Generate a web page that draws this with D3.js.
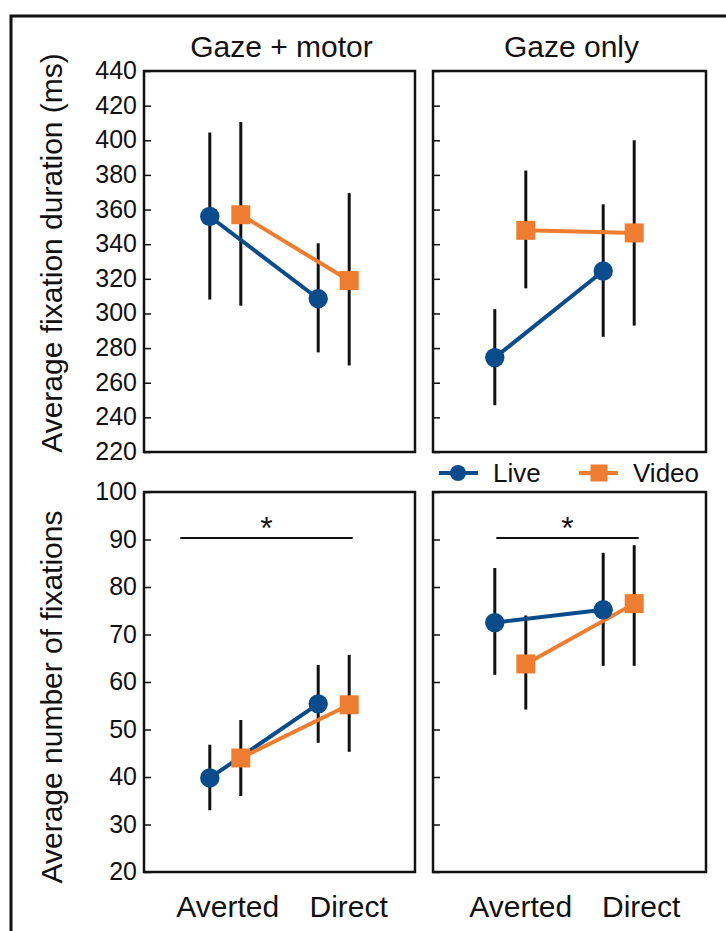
<!DOCTYPE html>
<html>
<head>
<meta charset="utf-8">
<script src="https://cdn.jsdelivr.net/npm/d3@7/dist/d3.min.js"></script>
<style>
  body { margin: 0; background: #fff; }
  svg text { font-family: "Liberation Sans", Arial, sans-serif; fill: #111; }
</style>
</head>
<body>
<svg id="chart" width="726" height="931"></svg>
<script>
// categories
const conditions = ['Averted', 'Direct'];
const seriesNames = ['Live', 'Video'];
const panelTitles = ['Gaze + motor', 'Gaze only'];

// fixation duration (ms): [Averted, Direct]
const durMotorLive = [356, 308.5];
const durMotorLiveLo = [308, 277.5];
const durMotorLiveHi = [404.5, 340.5];
const durMotorVideo = [357, 319];
const durMotorVideoLo = [304.5, 270];
const durMotorVideoHi = [410.5, 369.5];

const durGazeLive = [274.5, 324.5];
const durGazeLiveLo = [247, 286.5];
const durGazeLiveHi = [302.5, 363];
const durGazeVideo = [348, 346.5];
const durGazeVideoLo = [314.5, 293];
const durGazeVideoHi = [382.5, 400];

// number of fixations
const numMotorLive = [39.8, 55.4];
const numMotorLiveLo = [33, 47.2];
const numMotorLiveHi = [46.8, 63.6];
const numMotorVideo = [44, 55.2];
const numMotorVideoLo = [36, 45.3];
const numMotorVideoHi = [52, 65.7];

const numGazeLive = [72.5, 75.2];
const numGazeLiveLo = [61.5, 63.4];
const numGazeLiveHi = [84, 87.2];
const numGazeVideo = [63.8, 76.5];
const numGazeVideoLo = [54.2, 63.4];
const numGazeVideoHi = [74, 88.8];

// ticks
const durTicks = d3.range(220, 441, 20);
const numTicks = d3.range(20, 101, 10);
const sigLevel = 90.3;

const blue = '#0a4b8b';
const orange = '#ef7d31';
const dark = '#111';

const svg = d3.select('#chart');

// outer frame (cropped figure)
svg.append('path')
  .attr('d', 'M11,931V16H726')
  .attr('fill', 'none')
  .attr('stroke', dark)
  .attr('stroke-width', 3);

const colX = [[144, 415], [433, 706]];
const rowY = [[71, 452], [492, 872]];
// where the categories sit in each column (slightly shifted in the right one)
const catRange = [[144, 415], [429, 700]];
const labelShift = [[2.5, 15], [10.5, 22.5]];

const yDur = d3.scaleLinear().domain([220, 440]).range([rowY[0][1], rowY[0][0]]);
const yNum = d3.scaleLinear().domain([20, 100]).range([rowY[1][1], rowY[1][0]]);

function bundle(m, lo, hi) {
  return conditions.map((c, i) => ({ cond: c, mean: m[i], lo: lo[i], hi: hi[i] }));
}

const panels = [
  { row: 0, col: 0, y: yDur, ticks: durTicks, live: bundle(durMotorLive, durMotorLiveLo, durMotorLiveHi), video: bundle(durMotorVideo, durMotorVideoLo, durMotorVideoHi) },
  { row: 0, col: 1, y: yDur, ticks: durTicks, live: bundle(durGazeLive, durGazeLiveLo, durGazeLiveHi), video: bundle(durGazeVideo, durGazeVideoLo, durGazeVideoHi) },
  { row: 1, col: 0, y: yNum, ticks: numTicks, live: bundle(numMotorLive, numMotorLiveLo, numMotorLiveHi), video: bundle(numMotorVideo, numMotorVideoLo, numMotorVideoHi), sig: [-45, 19] },
  { row: 1, col: 1, y: yNum, ticks: numTicks, live: bundle(numGazeLive, numGazeLiveLo, numGazeLiveHi), video: bundle(numGazeVideo, numGazeVideoLo, numGazeVideoHi), sig: [-14, 20] }
];

const dodge = 15.5;

panels.forEach(p => {
  const [x0, x1] = colX[p.col];
  const [y0, y1] = rowY[p.row];
  const x = d3.scalePoint().domain(conditions).range(catRange[p.col]).padding(0.75);
  const g = svg.append('g');

  // y axis ticks (inward)
  const axis = d3.axisLeft(p.y)
    .tickValues(p.ticks)
    .tickSize(-7)
    .tickPadding(7)
    .tickFormat(p.col === 0 ? d3.format('d') : '');
  const ag = g.append('g')
    .attr('transform', `translate(${x0},0)`)
    .call(axis);
  ag.select('.domain').remove();
  ag.selectAll('line').attr('stroke', dark).attr('stroke-width', 1.5);
  ag.selectAll('text')
    .attr('font-size', 25)
    .attr('fill', dark)
    .attr('dy', '0.3em');

  // panel box
  g.append('rect')
    .attr('x', x0).attr('y', y0)
    .attr('width', x1 - x0).attr('height', y1 - y0)
    .attr('fill', 'none')
    .attr('stroke', dark)
    .attr('stroke-width', 2.5);

  const series = [
    { data: p.live, off: -dodge, color: blue, mark: 'circle' },
    { data: p.video, off: dodge, color: orange, mark: 'square' }
  ];

  // error bars
  series.forEach(s => {
    g.selectAll(null)
      .data(s.data)
      .enter()
      .append('line')
      .attr('x1', d => x(d.cond) + s.off)
      .attr('x2', d => x(d.cond) + s.off)
      .attr('y1', d => p.y(d.lo))
      .attr('y2', d => p.y(d.hi))
      .attr('stroke', dark)
      .attr('stroke-width', 3);
  });

  // connecting lines
  series.forEach(s => {
    g.append('path')
      .datum(s.data)
      .attr('fill', 'none')
      .attr('stroke', s.color)
      .attr('stroke-width', 4)
      .attr('d', d3.line().x(d => x(d.cond) + s.off).y(d => p.y(d.mean)));
  });

  // markers
  series.forEach(s => {
    if (s.mark === 'circle') {
      g.selectAll(null)
        .data(s.data)
        .enter()
        .append('circle')
        .attr('cx', d => x(d.cond) + s.off)
        .attr('cy', d => p.y(d.mean))
        .attr('r', 9.7)
        .attr('fill', s.color);
    } else {
      g.selectAll(null)
        .data(s.data)
        .enter()
        .append('rect')
        .attr('x', d => x(d.cond) + s.off - 9.5)
        .attr('y', d => p.y(d.mean) - 9.5)
        .attr('width', 19)
        .attr('height', 19)
        .attr('fill', s.color);
    }
  });

  // significance bar
  if (p.sig) {
    const sx0 = x('Averted') + p.sig[0];
    const sx1 = x('Direct') + p.sig[1];
    g.append('line')
      .attr('x1', sx0).attr('x2', sx1)
      .attr('y1', p.y(sigLevel)).attr('y2', p.y(sigLevel))
      .attr('stroke', dark)
      .attr('stroke-width', 2);
    g.append('text')
      .attr('x', (sx0 + sx1) / 2)
      .attr('y', p.y(sigLevel) + 1)
      .attr('text-anchor', 'middle')
      .attr('font-size', 32)
      .text('*');
  }

  // titles & x labels
  if (p.row === 0) {
    g.append('text')
      .attr('x', (x0 + x1) / 2 + 2)
      .attr('y', 57)
      .attr('text-anchor', 'middle')
      .attr('font-size', 30)
      .text(panelTitles[p.col]);
  } else {
    g.selectAll(null)
      .data(conditions)
      .enter()
      .append('text')
      .attr('x', (d, i) => x(d) + labelShift[p.col][i])
      .attr('y', 917)
      .attr('text-anchor', 'middle')
      .attr('font-size', 30)
      .text(d => d);
  }
});

// y axis titles
svg.append('text')
  .attr('transform', 'translate(62,253) rotate(-90)')
  .attr('text-anchor', 'middle')
  .attr('font-size', 30)
  .text('Average fixation duration (ms)');

svg.append('text')
  .attr('transform', 'translate(62,697) rotate(-90)')
  .attr('text-anchor', 'middle')
  .attr('font-size', 30)
  .text('Average number of fixations');

// legend
const legend = svg.append('g').attr('transform', 'translate(439,473)');
const legendItems = legend.selectAll('g')
  .data(seriesNames)
  .enter()
  .append('g')
  .attr('transform', (d, i) => `translate(${i * 140},0)`);

legendItems.append('line')
  .attr('x1', 0).attr('x2', 39)
  .attr('y1', 0).attr('y2', 0)
  .attr('stroke', (d, i) => i === 0 ? blue : orange)
  .attr('stroke-width', 4);

legendItems.filter((d, i) => i === 0)
  .append('circle')
  .attr('cx', 19).attr('cy', 0).attr('r', 8)
  .attr('fill', blue);

legendItems.filter((d, i) => i === 1)
  .append('rect')
  .attr('x', 11.5).attr('y', -8.5)
  .attr('width', 17).attr('height', 17)
  .attr('fill', orange);

legendItems.append('text')
  .attr('x', 54)
  .attr('y', 9)
  .attr('font-size', 26)
  .text(d => d);
</script>
</body>
</html>
